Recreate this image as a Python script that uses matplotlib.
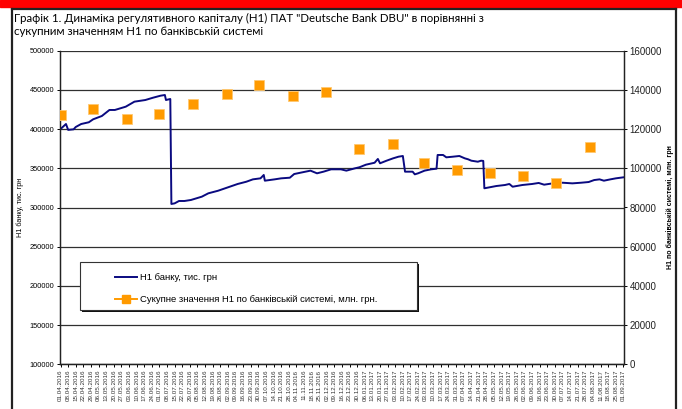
import datetime as dt

import matplotlib
matplotlib.use("Agg")
import matplotlib.pyplot as plt
import matplotlib.dates as mdates
from matplotlib.lines import Line2D
from matplotlib.patches import Rectangle

# ── Data ───────────────────────────────────────────────────────────────────────

# H1 of the bank, thousand UAH
bank_dates = [
    "2016-04-01", "2016-04-06", "2016-04-08", "2016-04-13", "2016-04-15", "2016-04-20",
    "2016-04-27", "2016-05-01", "2016-05-09", "2016-05-16", "2016-05-21", "2016-05-31",
    "2016-06-08", "2016-06-18", "2016-06-25", "2016-07-02", "2016-07-06", "2016-07-07",
    "2016-07-11", "2016-07-12", "2016-07-15", "2016-07-19", "2016-07-24", "2016-07-30",
    "2016-08-09", "2016-08-15", "2016-08-24", "2016-09-02", "2016-09-11", "2016-09-19",
    "2016-09-25", "2016-10-02", "2016-10-05", "2016-10-06", "2016-10-15", "2016-10-21",
    "2016-10-29", "2016-11-02", "2016-11-11", "2016-11-17", "2016-11-23", "2016-11-29",
    "2016-12-06", "2016-12-15", "2016-12-20", "2016-12-28", "2017-01-01", "2017-01-07",
    "2017-01-15", "2017-01-18", "2017-01-20", "2017-01-26", "2017-02-01", "2017-02-06",
    "2017-02-10", "2017-02-12", "2017-02-19", "2017-02-21", "2017-02-24", "2017-03-02",
    "2017-03-08", "2017-03-13", "2017-03-14", "2017-03-19", "2017-03-22", "2017-03-28",
    "2017-04-03", "2017-04-08", "2017-04-11", "2017-04-14", "2017-04-20", "2017-04-23",
    "2017-04-25", "2017-04-26", "2017-05-07", "2017-05-15", "2017-05-19", "2017-05-22",
    "2017-05-31", "2017-06-09", "2017-06-15", "2017-06-20", "2017-06-28", "2017-07-07",
    "2017-07-16", "2017-07-24", "2017-07-31", "2017-08-05", "2017-08-10", "2017-08-14",
    "2017-08-20", "2017-08-25", "2017-09-01",
]
bank_h1 = [
    400100, 406500, 399000, 399700, 402700, 406500,
    408700, 412500, 416700, 424400, 424400, 428600,
    435000, 437100, 440000, 442600, 443500, 437100,
    438400, 304500, 305300, 308300, 308300, 309600,
    313800, 318100, 321400, 325700, 330000, 332900,
    335900, 337200, 341500, 334200, 335900, 337200,
    338000, 342700, 345300, 347000, 343600, 345700,
    348700, 348700, 347000, 350000, 351300, 354600,
    357100, 361900, 356400, 359700, 362700, 364800,
    365700, 345700, 345700, 342300, 343600, 347000,
    348700, 349500, 367000, 367000, 364000, 364800,
    365700, 362700, 361500, 359700, 358400, 359700,
    359400, 324500, 327400, 328700, 330000, 326500,
    328700, 330000, 331300, 329100, 330800, 331600,
    330800, 331600, 332500, 335000, 335900, 334200,
    335900, 337200, 338500,
]

# H1 of the banking system, million UAH (monthly)
system_dates = [
    "2016-04-01", "2016-05-01", "2016-06-01", "2016-07-01", "2016-08-01", "2016-09-01",
    "2016-10-01", "2016-11-01", "2016-12-01", "2017-01-01", "2017-02-01", "2017-03-01",
    "2017-04-01", "2017-05-01", "2017-06-01", "2017-07-01", "2017-08-01",
]
system_h1 = [
    127200, 130300, 125300, 127700, 132800, 137800,
    142300, 136700, 138800, 109700, 112300, 102600,
    99100, 97500, 96100, 92700, 110900,
]

tick_start = "2016-04-01"
tick_end = "2017-09-01"

TITLE = ('Графік 1. Динаміка регулятивного капіталу (Н1) ПАТ "Deutsche Bank DBU" в порівнянні з\n'
         'сукупним значенням Н1 по банківській системі')
LABEL_BANK = "Н1 банку, тис. грн"
LABEL_SYS = "Сукупне значення Н1 по банківській системі, млн. грн."
YLABEL_L = "Н1 банку, тис. грн"
YLABEL_R = "Н1 по банківській системі, млн. грн"

NAVY = "#0A0A80"
ORANGE = "#FF9A00"
GRID = "#303030"

plt.rcParams["font.family"] = ["Liberation Sans", "DejaVu Sans"]


def to_date(s):
    return dt.datetime.strptime(s, "%Y-%m-%d")


bd = [to_date(s) for s in bank_dates]
sd = [to_date(s) for s in system_dates]
t0, t1 = to_date(tick_start), to_date(tick_end)
weeks = []
d = t0
while d <= t1:
    weeks.append(d)
    d += dt.timedelta(days=7)

W, H = 682, 409
fig = plt.figure(figsize=(W / 100, H / 100), dpi=100)

# red strip + outer frame
fig.patches.append(Rectangle((0, 1 - 7 / H), 1, 7 / H, transform=fig.transFigure,
                             color="#FF0000", zorder=0))
for xs, ys in [([12 / W, 12 / W], [0, 1 - 9 / H]),
               ([12 / W, 676 / W], [1 - 9 / H, 1 - 9 / H]),
               ([676 / W, 676 / W], [0, 1 - 9 / H])]:
    fig.add_artist(Line2D(xs, ys, transform=fig.transFigure, color="#222222", lw=1.6))

fig.text(14 / W, 1 - 13 / H, TITLE, ha="left", va="top", fontsize=8.3,
         family=["Lato", "DejaVu Sans"], linespacing=1.22)

ax = fig.add_axes([60 / W, 1 - 364.3 / H, 564 / W, (364.3 - 50.7) / H])
ax2 = ax.twinx()

ax.plot(bd, bank_h1, color=NAVY, lw=1.4, zorder=3)
ax2.plot(sd, system_h1, ls="none", marker="s", ms=7, color=ORANGE,
         markeredgecolor="#FFC870", markeredgewidth=0.6, zorder=4)

ax.set_ylim(100000, 500000)
ax.set_yticks(range(100000, 500001, 50000))
ax2.set_ylim(0, 160000)
ax2.set_yticks(range(0, 160001, 20000))
ax.set_xlim(t0 - dt.timedelta(days=0.5), t1 + dt.timedelta(days=0.5))

ax.set_xticks(weeks)
ax.xaxis.set_major_formatter(mdates.DateFormatter("%d.%m.%Y"))
ax.tick_params(axis="x", rotation=90, labelsize=4.5, length=2.5, width=0.7,
               pad=1.5, labelcolor="#333333")
ax.tick_params(axis="y", labelsize=5.3, length=2.5, width=0.7, pad=1.5)
ax2.tick_params(axis="y", labelsize=7, length=2.5, width=0.7, pad=1.5,
                labelcolor="#222222")

ax.grid(axis="y", color=GRID, lw=0.9)
ax.set_axisbelow(True)
for a in (ax, ax2):
    a.spines["top"].set_visible(False)
    for s in ("left", "right", "bottom"):
        a.spines[s].set_linewidth(0.9)
        a.spines[s].set_color("#222222")

ax.set_ylabel(YLABEL_L, fontsize=5.2)
ax.yaxis.set_label_coords(-36.5 / 564, 0.5)
ax2.set_ylabel(YLABEL_R, fontsize=5, fontweight="bold")
ax2.yaxis.set_label_coords(1 + 42 / 564, 0.5)

# legend with shadowed box
lx0, ly0, lx1, ly1 = 80, 262, 417, 310
fig.patches.append(Rectangle(((lx0 + 2) / W, 1 - (ly1 + 2) / H), (lx1 - lx0) / W,
                             (ly1 - ly0) / H, transform=fig.transFigure,
                             facecolor="#111111", edgecolor="none", zorder=5))
fig.patches.append(Rectangle((lx0 / W, 1 - ly1 / H), (lx1 - lx0) / W, (ly1 - ly0) / H,
                             transform=fig.transFigure, facecolor="white",
                             edgecolor="#333333", lw=0.8, zorder=6))
handles = [Line2D([], [], color=NAVY, lw=1.4),
           Line2D([], [], color=ORANGE, lw=1.4, marker="s", ms=6)]
leg = fig.legend(handles, [LABEL_BANK, LABEL_SYS], loc="upper left",
                 bbox_to_anchor=(106 / W, 1 - 265 / H), frameon=False,
                 fontsize=6.8, handlelength=2.4, handletextpad=0.3,
                 labelspacing=1.35)
leg.set_zorder(7)

fig.savefig("out.png", dpi=100)
